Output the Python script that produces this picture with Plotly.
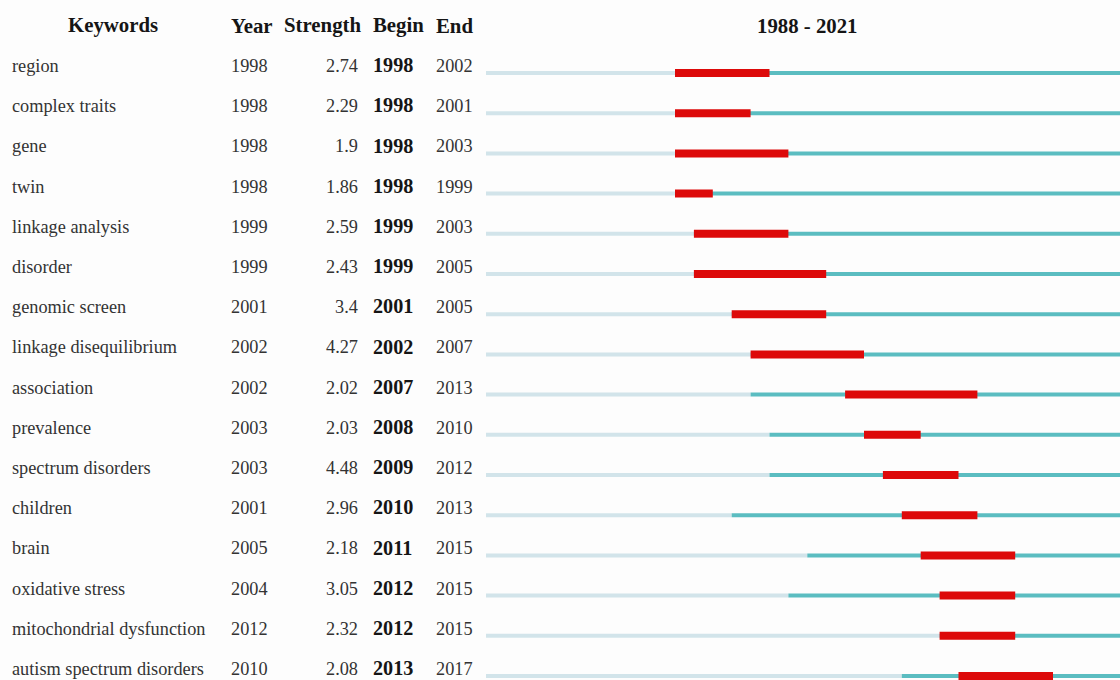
import plotly.graph_objects as go

# Keyword citation bursts, 1988 - 2021
keywords = ["region", "complex traits", "gene", "twin", "linkage analysis", "disorder",
            "genomic screen", "linkage disequilibrium", "association", "prevalence",
            "spectrum disorders", "children", "brain", "oxidative stress",
            "mitochondrial dysfunction", "autism spectrum disorders"]
first_year = [1998, 1998, 1998, 1998, 1999, 1999, 2001, 2002, 2002, 2003, 2003, 2001,
              2005, 2004, 2012, 2010]
strength = [2.74, 2.29, 1.9, 1.86, 2.59, 2.43, 3.4, 4.27, 2.02, 2.03, 4.48, 2.96,
            2.18, 3.05, 2.32, 2.08]
begin = [1998, 1998, 1998, 1998, 1999, 1999, 2001, 2002, 2007, 2008, 2009, 2010,
         2011, 2012, 2012, 2013]
end = [2002, 2001, 2003, 1999, 2003, 2005, 2005, 2007, 2013, 2010, 2012, 2013,
       2015, 2015, 2015, 2017]
start_year, end_year = 1988, 2021

# year -> pixel mapping: 1988 at x=486, 18.9 px per year, figure 1120 px wide
px0, ppy = 486.0, 18.9
x_lo = start_year - px0 / ppy
x_hi = start_year + (1120 - px0) / ppy
# rows: first at y=73, spacing 40.2 px, figure 680 px tall
py0, rsp = 73.0, 40.2
y_top = -py0 / rsp
y_bot = (680 - py0) / rsp

FONT = "Liberation Serif"
FS = 18.3      # regular cell text
FSB = 20.2     # bold cells
FSH = 20.8     # headers

fig = go.Figure()

def seg(starts, stops):
    xs, ys = [], []
    for i, (a, b) in enumerate(zip(starts, stops)):
        xs += [a, b, None]
        ys += [i, i, None]
    return xs, ys

n = len(keywords)
# before first appearance
xs, ys = seg([start_year] * n, first_year)
fig.add_trace(go.Scatter(x=xs, y=ys, mode="lines", line=dict(color="#d2e4ea", width=4),
                         hoverinfo="skip", showlegend=False))
# after first appearance
xs, ys = seg(first_year, [end_year + 1] * n)
fig.add_trace(go.Scatter(x=xs, y=ys, mode="lines", line=dict(color="#5bbdc1", width=4),
                         hoverinfo="skip", showlegend=False))
# burst period
xs, ys = seg(begin, [e + 1 for e in end])
fig.add_trace(go.Scatter(x=xs, y=ys, mode="lines", line=dict(color="#dd0a0a", width=8),
                         hoverinfo="skip", showlegend=False))

ann = []
def txt(x, y, s, anchor="left", bold=False, size=FS, yshift=7):
    ann.append(dict(x=x / 1120, y=y, xref="paper", yref="y",
                    text=f"<b>{s}</b>" if bold else s,
                    showarrow=False, xanchor=anchor, yanchor="middle", yshift=yshift,
                    font=dict(family=FONT, size=size,
                              color="#151515" if bold else "#333333")))

for i in range(n):
    txt(10, i, keywords[i])
    txt(229, i, str(first_year[i]))
    txt(360, i, f"{strength[i]:g}", anchor="right")
    txt(371, i, str(begin[i]), bold=True, size=FSB, yshift=7.8)
    txt(434, i, str(end[i]))

hy = (25 - py0) / rsp
txt(112.5, hy, "Keywords", anchor="center", bold=True, size=FSH, yshift=0)
txt(229, hy, "Year", bold=True, size=FSH, yshift=0)
txt(282, hy, "Strength", bold=True, size=FSH, yshift=0)
txt(371, hy, "Begin", bold=True, size=FSH, yshift=0)
txt(434, hy, "End", bold=True, size=FSH, yshift=0)
ann.append(dict(x=(start_year + end_year + 1) / 2, y=hy, xref="x", yref="y",
                text=f"<b>{start_year} - {end_year}</b>", showarrow=False,
                xanchor="center", yanchor="middle",
                font=dict(family=FONT, size=FSH, color="#151515")))

fig.update_layout(
    width=1120, height=680, margin=dict(l=0, r=0, t=0, b=0),
    paper_bgcolor="#fdfdfd", plot_bgcolor="#fdfdfd",
    xaxis=dict(range=[x_lo, x_hi], visible=False, fixedrange=True),
    yaxis=dict(range=[y_bot, y_top], visible=False, fixedrange=True),
    annotations=ann,
)
fig.write_html("out.html")
